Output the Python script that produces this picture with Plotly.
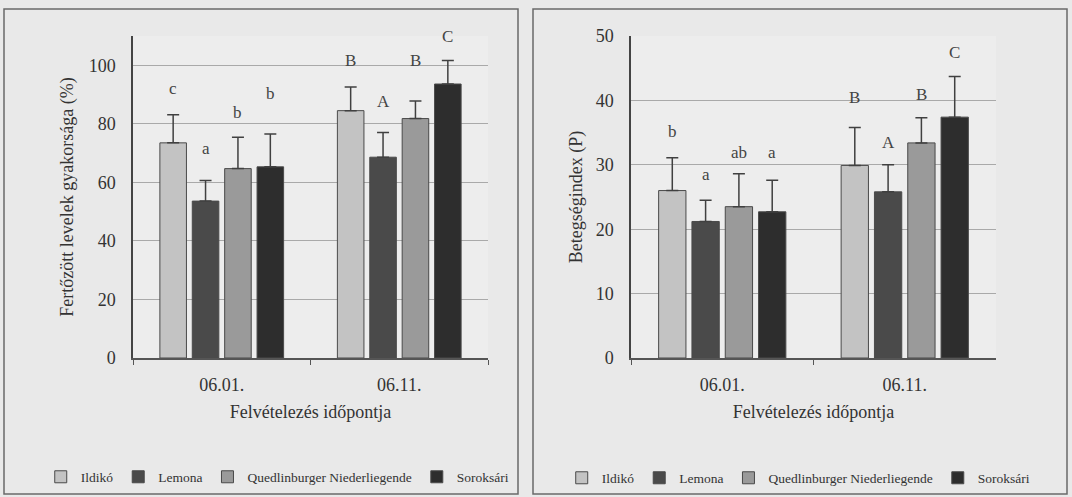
import plotly.graph_objects as go

# ---------------- data ----------------
dates = ["06.01.", "06.11."]
varieties = ["Ildikó", "Lemona", "Quedlinburger Niederliegende", "Soroksári"]

# Left chart: Fertőzött levelek gyakorsága (%)
freq_ildiko = [73.5, 84.5]
freq_lemona = [53.6, 68.6]
freq_quedl = [64.7, 81.8]
freq_sorok = [65.3, 93.6]
freq_err_ildiko = [9.6, 8.1]
freq_err_lemona = [7.0, 8.4]
freq_err_quedl = [10.7, 6.0]
freq_err_sorok = [11.2, 8.0]
freq_letters_0601 = ["c", "a", "b", "b"]
freq_letters_0611 = ["B", "A", "B", "C"]
freq_letter_y_0601 = [91.9, 71.7, 84.0, 90.5]
freq_letter_y_0611 = [101.5, 87.5, 101.5, 109.7]

# Right chart: Betegségindex (P)
idx_ildiko = [26.0, 29.9]
idx_lemona = [21.2, 25.8]
idx_quedl = [23.5, 33.4]
idx_sorok = [22.7, 37.4]
idx_err_ildiko = [5.1, 5.9]
idx_err_lemona = [3.3, 4.2]
idx_err_quedl = [5.1, 3.9]
idx_err_sorok = [4.9, 6.3]
idx_letters_0601 = ["b", "a", "ab", "a"]
idx_letters_0611 = ["B", "A", "B", "C"]
idx_letter_y_0601 = [35.2, 28.5, 31.9, 31.9]
idx_letter_y_0611 = [40.5, 33.4, 40.9, 47.4]

# ---------------- style ----------------
colors = ["#c3c3c3", "#4a4a4a", "#9a9a9a", "#2d2d2d"]
FONT = "'Liberation Serif', 'Times New Roman', 'DejaVu Serif', serif"
BG = "#e9e9e9"
W, H = 1072, 497
BARGAP = 0.27
GROUPGAP = 0.18

fig = go.Figure()

freq_vals = [freq_ildiko, freq_lemona, freq_quedl, freq_sorok]
freq_errs = [freq_err_ildiko, freq_err_lemona, freq_err_quedl, freq_err_sorok]
idx_vals = [idx_ildiko, idx_lemona, idx_quedl, idx_sorok]
idx_errs = [idx_err_ildiko, idx_err_lemona, idx_err_quedl, idx_err_sorok]

for i, name in enumerate(varieties):
    for vals, errs, xa, ya, leg in [
        (freq_vals[i], freq_errs[i], "x", "y", "legend"),
        (idx_vals[i], idx_errs[i], "x2", "y2", "legend2"),
    ]:
        fig.add_trace(go.Bar(
            x=dates, y=vals, name=name, xaxis=xa, yaxis=ya, legend=leg,
            marker=dict(color=colors[i], line=dict(color="#4a4a4a", width=1)),
            error_y=dict(type="data", symmetric=False, array=errs,
                         arrayminus=[0] * len(errs), color="#404040",
                         thickness=1.5, width=6),
        ))

# significance letters
slot = (1 - BARGAP) / 4
def add_letters(letters, ys, cat, xref, yref):
    for i, (t, yv) in enumerate(zip(letters, ys)):
        fig.add_annotation(
            x=cat + (i - 1.5) * slot, y=yv, xref=xref, yref=yref, text=t,
            showarrow=False, yanchor="middle",
            font=dict(family=FONT, size=17, color="#444444"))

add_letters(freq_letters_0601, freq_letter_y_0601, 0, "x", "y")
add_letters(freq_letters_0611, freq_letter_y_0611, 1, "x", "y")
add_letters(idx_letters_0601, idx_letter_y_0601, 0, "x2", "y2")
add_letters(idx_letters_0611, idx_letter_y_0611, 1, "x2", "y2")

ydom = [1 - 358 / H, 1 - 36 / H]
xcommon = dict(
    showline=True, linecolor="#555555", linewidth=2, automargin=False,
    ticks="outside", tickson="boundaries", ticklen=5, tickcolor="#555555",
    tickfont=dict(family=FONT, size=18, color="#333333"),
    ticklabelstandoff=9, showgrid=False, fixedrange=True,
    title=dict(text="Felvételezés időpontja",
               font=dict(family=FONT, size=18, color="#333333"), standoff=12),
)
ycommon = dict(
    showline=True, linecolor="#444444", linewidth=1.5, automargin=False,
    showgrid=True, gridcolor="#a9a9a9", gridwidth=1, zeroline=False,
    ticks="", tickfont=dict(family=FONT, size=18, color="#333333"),
    ticklabelstandoff=12, domain=ydom, fixedrange=True,
)

fig.update_layout(
    width=W, height=H, margin=dict(l=0, r=0, t=0, b=0, autoexpand=False),
    paper_bgcolor=BG, plot_bgcolor="#ededed",
    barmode="group", bargap=BARGAP, bargroupgap=GROUPGAP,
    font=dict(family=FONT, color="#333333"),
    xaxis=dict(domain=[133 / W, 488 / W], anchor="y", **xcommon),
    xaxis2=dict(domain=[631 / W, 996 / W], anchor="y2", **xcommon),
    yaxis=dict(anchor="x", range=[0, 110], tickvals=[0, 20, 40, 60, 80, 100],
               title=dict(text="Fertőzött levelek gyakorsága (%)",
                          font=dict(family=FONT, size=18, color="#333333"), standoff=10),
               **ycommon),
    yaxis2=dict(anchor="x2", range=[0, 50], tickvals=[0, 10, 20, 30, 40, 50],
                title=dict(text="Betegségindex (P)",
                           font=dict(family=FONT, size=18, color="#333333"), standoff=8),
                **ycommon),
    legend=dict(orientation="h", x=0.038, y=1 - 477 / H, xanchor="left", yanchor="middle",
                bgcolor="rgba(0,0,0,0)", itemwidth=30,
                font=dict(family=FONT, size=13.5, color="#333333")),
    legend2=dict(orientation="h", x=0.524, y=1 - 478 / H, xanchor="left", yanchor="middle",
                 bgcolor="rgba(0,0,0,0)", itemwidth=30,
                 font=dict(family=FONT, size=13.5, color="#333333")),
    shapes=[
        dict(type="rect", xref="paper", yref="paper", x0=4 / W, x1=518 / W,
             y0=1 - 494 / H, y1=1 - 9 / H, line=dict(color="#6a6a6a", width=1.5)),
        dict(type="rect", xref="paper", yref="paper", x0=533 / W, x1=1067 / W,
             y0=1 - 494 / H, y1=1 - 9 / H, line=dict(color="#6a6a6a", width=1.5)),
    ],
)

fig.write_html(
    "out.html",
    config={"displayModeBar": False},
    post_script="document.body.style.margin='0';document.body.style.padding='0';"
                "document.documentElement.style.overflow='hidden';",
)
